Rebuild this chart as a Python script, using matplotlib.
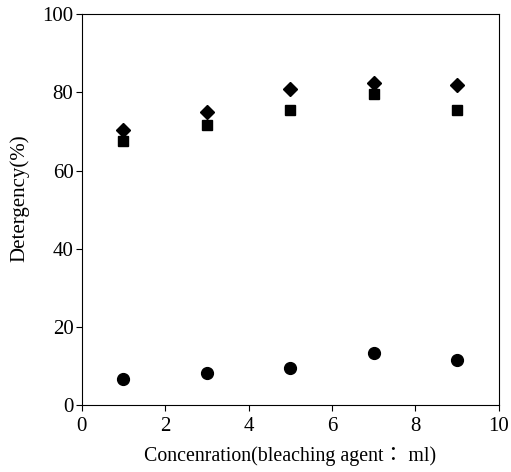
import matplotlib
matplotlib.use("Agg")
import matplotlib.pyplot as plt

plt.rcParams['font.family'] = ['Liberation Serif', 'Noto Sans CJK KR', 'DejaVu Sans']

# Bleaching agent concentration (ml)
concentration = [1, 3, 5, 7, 9]
# Detergency (%) for the three test series
series_diamond = [70.4, 75.0, 80.9, 82.4, 81.9]
series_square = [67.5, 71.8, 75.4, 79.5, 75.6]
series_circle = [6.8, 8.3, 9.5, 13.3, 11.6]

x_ticks = [0, 2, 4, 6, 8, 10]
y_ticks = [0, 20, 40, 60, 80, 100]

fig = plt.figure(figsize=(5.11, 4.72), dpi=100)
ax = fig.add_axes([0.160, 0.141, 0.816, 0.829])

ax.plot(concentration, series_square, linestyle='none', marker='s',
        markersize=7.5, color='black', zorder=3)
ax.plot(concentration, series_diamond, linestyle='none', marker='D',
        markersize=7.5, color='black', zorder=4)
ax.plot(concentration, series_circle, linestyle='none', marker='o',
        markersize=8.5, color='black', zorder=3)

ax.set_xlim(0, 10)
ax.set_ylim(0, 100)
ax.set_xticks(x_ticks)
ax.set_yticks(y_ticks)
ax.tick_params(direction='out', length=4, width=0.8, labelsize=15,
               top=False, right=False, pad=2)
ax.tick_params(axis='x', pad=4)
for side in ax.spines.values():
    side.set_linewidth(0.8)

ax.set_xlabel('Concenration(bleaching agent\uff1a ml)', fontsize=14.3, labelpad=8)
ax.set_ylabel('Detergency(%)', fontsize=15)
ax.yaxis.set_label_coords(-0.125, 0.53)

fig.savefig('out.png', dpi=100)
